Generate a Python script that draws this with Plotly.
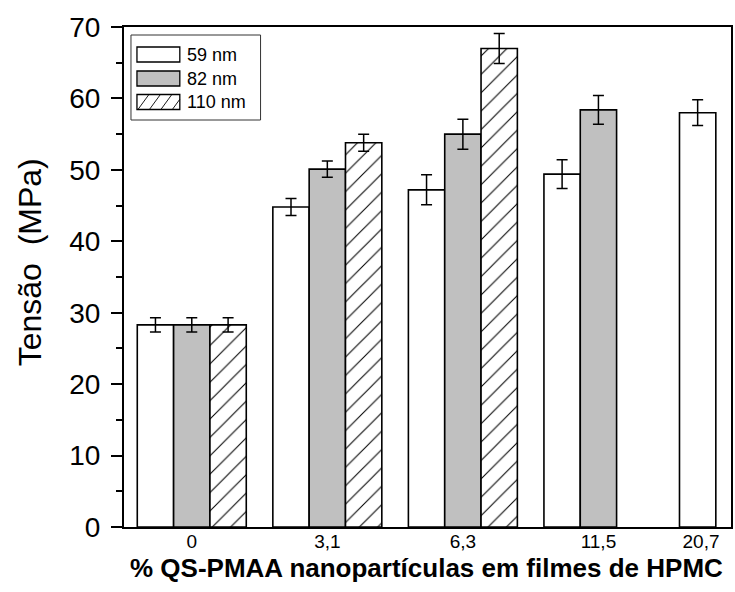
import plotly.graph_objects as go

# ---- data ----
categories = ["0", "3,1", "6,3", "11,5", "20,7"]
series_names = ["59 nm", "82 nm", "110 nm"]
vals_59 = [28.3, 44.8, 47.2, 49.4, 58.0]
err_59 = [1.0, 1.2, 2.1, 2.0, 1.8]
vals_82 = [28.3, 50.1, 55.0, 58.4, None]
err_82 = [1.0, 1.15, 2.1, 2.0, None]
vals_110 = [28.3, 53.8, 67.0, None, None]
err_110 = [1.0, 1.2, 2.1, None, None]
tick_positions = [0, 1, 2, 3, 3.757]
y_ticks = [0, 10, 20, 30, 40, 50, 60, 70]

FONT = "Arial, Liberation Sans, sans-serif"
W, H = 735, 592
L, R, T, B = 124, 2, 27, 65
PW, PH = W - L - R, H - T - B

xs = list(range(len(categories)))

fig = go.Figure()
styles = [
    dict(color="white", pattern=None),
    dict(color="#c0c0c0", pattern=None),
    dict(color="white", pattern=dict(shape="/", size=13, solidity=0.08, fgcolor="black", bgcolor="white", fillmode="replace")),
]
for name, v, e, st in zip(series_names, [vals_59, vals_82, vals_110], [err_59, err_82, err_110], styles):
    marker = dict(color=st["color"], line=dict(color="black", width=1.6))
    if st["pattern"]:
        marker["pattern"] = st["pattern"]
    fig.add_trace(go.Bar(
        x=xs, y=v, name=name, marker=marker,
        error_y=dict(type="data", array=e, visible=True, color="black", thickness=1.5, width=5.5),
        showlegend=False,
    ))

fig.update_layout(
    width=W, height=H,
    margin=dict(l=L, r=R, t=T, b=B, pad=0),
    paper_bgcolor="white", plot_bgcolor="white",
    barmode="group", bargap=0.196, bargroupgap=0,
    font=dict(family=FONT, color="black"),
)
fig.update_xaxes(
    range=[-0.5, 3.978], showgrid=False, zeroline=False,
    showline=True, linecolor="black", linewidth=2, mirror=True,
    ticks="", tickvals=tick_positions, ticktext=categories,
    tickfont=dict(size=19, family=FONT, color="black"),
    ticklabelstandoff=-4,
)
fig.update_yaxes(
    range=[0, 70], showgrid=False, zeroline=False,
    showline=True, linecolor="black", linewidth=2, mirror=True,
    ticks="outside", ticklen=11, tickwidth=2, tickcolor="black",
    tickvals=y_ticks,
    tickfont=dict(size=28, family=FONT, color="black"),
    ticklabelstandoff=5,
    minor=dict(dtick=5, ticks="outside", ticklen=6, tickwidth=2, tickcolor="black"),
)

def px_x(p):
    return (p - L) / PW

def px_y(p):
    return (T + PH - p) / PH

# axis titles
fig.add_annotation(text="Tensão\u00a0 (MPa)", xref="paper", yref="paper",
                   x=px_x(30), y=px_y(262), textangle=-90, showarrow=False,
                   xanchor="center", yanchor="middle",
                   font=dict(size=32, family=FONT, color="black"))
fig.add_annotation(text="<b>% QS-PMAA nanopartículas em filmes de HPMC</b>", xref="paper", yref="paper",
                   x=px_x(427), y=px_y(568), showarrow=False,
                   xanchor="center", yanchor="middle",
                   font=dict(size=26, family=FONT, color="black"))

# custom legend
shapes = []
shapes.append(dict(type="rect", xref="paper", yref="paper",
                   x0=px_x(131), x1=px_x(261), y0=px_y(35), y1=px_y(120),
                   line=dict(color="#333333", width=1), fillcolor="white", layer="above"))
row_tops = [47, 71, 94.5]
sw_h = 15
sw_x0, sw_x1 = 137, 180
fills = ["white", "#c0c0c0", "white"]
for i, (top, fc, nm) in enumerate(zip(row_tops, fills, series_names)):
    shapes.append(dict(type="rect", xref="paper", yref="paper",
                       x0=px_x(sw_x0), x1=px_x(sw_x1), y0=px_y(top), y1=px_y(top + sw_h),
                       line=dict(color="black", width=1.3), fillcolor=fc, layer="above"))
    fig.add_annotation(text=nm, xref="paper", yref="paper", x=px_x(185), y=px_y(top + sw_h / 2),
                       showarrow=False, xanchor="left", yanchor="middle",
                       font=dict(size=18, family=FONT, color="black"))
# hatch in third swatch
top = row_tops[2]
dxh = 11.0
for k in range(4):
    bx = sw_x0 + 1 + k * 11.5
    tx = bx + dxh
    ty = top
    if tx > sw_x1:
        frac = (sw_x1 - bx) / dxh
        tx = sw_x1
        ty = top + sw_h * (1 - frac)
    shapes.append(dict(type="line", xref="paper", yref="paper",
                       x0=px_x(bx), y0=px_y(top + sw_h), x1=px_x(tx), y1=px_y(ty),
                       line=dict(color="black", width=0.9), layer="above"))
fig.update_layout(shapes=shapes)

fig.write_html("out.html", config={"displayModeBar": False},
               post_script="document.body.style.margin='0';document.body.style.padding='0';")
